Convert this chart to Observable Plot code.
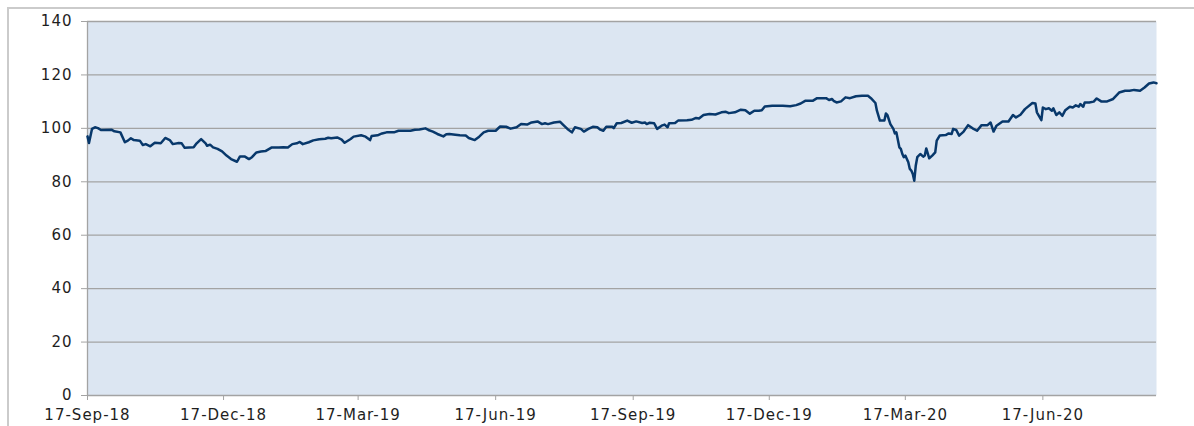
<!DOCTYPE html>
<html>
<head>
<meta charset="utf-8">
<script src="https://cdn.jsdelivr.net/npm/d3@7"></script>
<script src="https://cdn.jsdelivr.net/npm/@observablehq/plot@0.6"></script>
<style>
  html, body { margin: 0; padding: 0; background: #ffffff; }
  #wrap { position: relative; width: 1194px; height: 426px; overflow: hidden; }
  #border { position: absolute; left: 7px; top: 7px; width: 1200px; height: 430px;
            border-top: 2px solid #cbcbcb; border-left: 2px solid #cbcbcb; box-sizing: border-box; }
  #chart { position: absolute; left: 0; top: 0; }
  #chart svg text { letter-spacing: 1px; }
</style>
</head>
<body>
<div id="wrap"><div id="border"></div><div id="chart"></div></div>
<script>
const dates = [
  "2018-09-17","2018-09-18","2018-09-20","2018-09-22","2018-09-24","2018-09-26","2018-10-03","2018-10-05","2018-10-09","2018-10-12",
  "2018-10-14","2018-10-16","2018-10-18","2018-10-22","2018-10-24","2018-10-26","2018-10-29","2018-11-01","2018-11-05","2018-11-08",
  "2018-11-11","2018-11-13","2018-11-17","2018-11-19","2018-11-21","2018-11-27","2018-11-29","2018-12-02","2018-12-05","2018-12-06",
  "2018-12-08","2018-12-10","2018-12-13","2018-12-16","2018-12-19","2018-12-22","2018-12-26","2018-12-28","2018-12-31","2019-01-03",
  "2019-01-05","2019-01-08","2019-01-11","2019-01-14","2019-01-18","2019-01-23","2019-01-26","2019-01-29","2019-02-01","2019-02-04",
  "2019-02-06","2019-02-08","2019-02-12","2019-02-15","2019-02-19","2019-02-23","2019-02-25","2019-02-27","2019-03-03","2019-03-06",
  "2019-03-08","2019-03-12","2019-03-14","2019-03-19","2019-03-22","2019-03-25","2019-03-26","2019-03-30","2019-04-02","2019-04-05",
  "2019-04-10","2019-04-13","2019-04-17","2019-04-21","2019-04-24","2019-04-27","2019-05-01","2019-05-03","2019-05-06","2019-05-09",
  "2019-05-13","2019-05-15","2019-05-17","2019-05-21","2019-05-24","2019-05-28","2019-05-30","2019-06-03","2019-06-06","2019-06-09",
  "2019-06-12","2019-06-17","2019-06-20","2019-06-24","2019-06-27","2019-07-01","2019-07-04","2019-07-08","2019-07-11","2019-07-15",
  "2019-07-18","2019-07-20","2019-07-22","2019-07-26","2019-07-30","2019-08-01","2019-08-04","2019-08-07","2019-08-09","2019-08-13",
  "2019-08-15","2019-08-18","2019-08-21","2019-08-24","2019-08-26","2019-08-28","2019-08-30","2019-09-03","2019-09-04","2019-09-06",
  "2019-09-09","2019-09-13","2019-09-16","2019-09-19","2019-09-23","2019-09-25","2019-09-26","2019-09-28","2019-10-01","2019-10-03",
  "2019-10-06","2019-10-08","2019-10-10","2019-10-11","2019-10-15","2019-10-17","2019-10-23","2019-10-26","2019-10-29","2019-10-31",
  "2019-11-03","2019-11-07","2019-11-11","2019-11-15","2019-11-18","2019-11-20","2019-11-24","2019-11-28","2019-12-01","2019-12-04",
  "2019-12-07","2019-12-10","2019-12-12","2019-12-14","2019-12-19","2019-12-26","2019-12-31","2020-01-04","2020-01-07","2020-01-10",
  "2020-01-15","2020-01-18","2020-01-24","2020-01-26","2020-01-28","2020-01-29","2020-01-31","2020-02-03","2020-02-06","2020-02-09",
  "2020-02-13","2020-02-17","2020-02-21","2020-02-23","2020-02-26","2020-02-27","2020-02-29","2020-03-03","2020-03-04","2020-03-05",
  "2020-03-07","2020-03-09","2020-03-10","2020-03-11","2020-03-13","2020-03-14","2020-03-15","2020-03-16","2020-03-17","2020-03-19",
  "2020-03-20","2020-03-21","2020-03-22","2020-03-23","2020-03-24","2020-03-25","2020-03-27","2020-03-29","2020-03-30","2020-03-31",
  "2020-04-02","2020-04-04","2020-04-06","2020-04-07","2020-04-09","2020-04-13","2020-04-15","2020-04-17","2020-04-18","2020-04-20",
  "2020-04-22","2020-04-25","2020-04-28","2020-05-01","2020-05-04","2020-05-07","2020-05-11","2020-05-13","2020-05-15","2020-05-17",
  "2020-05-21","2020-05-25","2020-05-28","2020-05-30","2020-06-02","2020-06-05","2020-06-10","2020-06-12","2020-06-13","2020-06-16",
  "2020-06-17","2020-06-19","2020-06-21","2020-06-23","2020-06-24","2020-06-26","2020-06-28","2020-06-30","2020-07-02","2020-07-05",
  "2020-07-07","2020-07-09","2020-07-11","2020-07-12","2020-07-14","2020-07-15","2020-07-18","2020-07-21","2020-07-23","2020-07-26",
  "2020-07-30","2020-08-03","2020-08-07","2020-08-11","2020-08-14","2020-08-17","2020-08-21","2020-08-24","2020-08-27","2020-08-30",
  "2020-09-01"
];
const values = [
  97.0, 94.5, 99.8, 100.4, 100.1, 99.4, 99.5, 98.9, 98.5, 94.8,
  95.4, 96.3, 95.6, 95.4, 93.8, 94.1, 93.3, 94.6, 94.4, 96.4,
  95.6, 94.1, 94.5, 94.4, 92.7, 92.9, 94.4, 96.0, 94.4, 93.5,
  93.9, 92.9, 92.3, 91.4, 89.8, 88.5, 87.5, 89.5, 89.5, 88.5,
  89.2, 91.0, 91.3, 91.5, 92.8, 92.8, 92.9, 92.8, 94.1, 94.4,
  94.9, 94.1, 94.8, 95.5, 95.9, 96.1, 96.5, 96.3, 96.6, 95.8,
  94.6, 96.0, 96.9, 97.4, 96.9, 95.6, 97.1, 97.4, 98.1, 98.5,
  98.5, 99.1, 99.1, 99.1, 99.5, 99.6, 100.0, 99.4, 98.8, 97.9,
  97.0, 97.8, 97.9, 97.6, 97.4, 97.3, 96.4, 95.6, 96.9, 98.5,
  99.1, 99.1, 100.7, 100.6, 99.9, 100.4, 101.6, 101.4, 102.2, 102.6,
  101.6, 101.9, 101.6, 102.2, 102.5, 101.4, 99.8, 98.5, 100.4, 99.8,
  98.8, 99.8, 100.6, 100.4, 99.5, 99.1, 100.6, 100.6, 100.1, 101.9,
  102.0, 102.9, 102.1, 102.6, 102.0, 102.2, 101.6, 102.1, 101.9, 99.8,
  101.0, 101.4, 100.4, 101.9, 102.0, 102.9, 103.0, 103.2, 103.9, 103.7,
  105.0, 105.4, 105.2, 106.0, 106.2, 105.7, 106.0, 107.0, 106.8, 105.5,
  106.6, 106.6, 106.8, 108.2, 108.5, 108.5, 108.3, 108.7, 109.3, 110.3,
  110.3, 111.3, 111.3, 110.6, 111.0, 110.3, 109.7, 110.1, 111.6, 111.3,
  112.0, 112.2, 112.2, 111.3, 109.5, 106.6, 102.9, 102.9, 105.6, 105.0,
  101.6, 99.8, 98.1, 98.5, 92.9, 92.3, 90.4, 89.2, 89.8, 87.3,
  84.8, 84.2, 82.9, 80.4, 86.1, 89.2, 90.4, 89.4, 89.8, 92.5,
  88.8, 89.8, 91.0, 95.4, 97.3, 97.5, 98.1, 97.9, 99.8, 99.4,
  97.3, 98.8, 101.2, 100.0, 99.1, 101.2, 101.2, 102.2, 98.8, 101.0,
  102.6, 102.6, 105.0, 104.1, 105.1, 107.2, 109.5, 109.3, 106.0, 103.1,
  107.8, 107.2, 107.5, 106.6, 107.5, 105.0, 106.0, 104.7, 106.8, 108.1,
  107.8, 108.6, 108.1, 109.1, 108.1, 109.7, 109.7, 110.0, 111.2, 110.1,
  110.1, 111.0, 113.4, 114.1, 114.1, 114.4, 114.1, 115.3, 116.8, 117.2,
  116.9
];
const yTicks = [0, 20, 40, 60, 80, 100, 120, 140];
const xTickDates = ["2018-09-17","2018-12-17","2019-03-17","2019-06-17","2019-09-17","2019-12-17","2020-03-17","2020-06-17"];
const xDomain = ["2018-09-17", "2020-09-01"];

const data = dates.map((d, i) => ({date: new Date(d), value: values[i]}));
const fmt = d3.utcFormat("%-d-%b-%y");

const chart = Plot.plot({
  width: 1194,
  height: 426,
  marginLeft: 87,
  marginRight: 38,
  marginTop: 21,
  marginBottom: 31,
  style: {fontFamily: "'DejaVu Sans', sans-serif", fontSize: "15px", color: "#1e1e1e", background: "transparent", overflow: "visible"},
  x: {type: "utc", domain: xDomain.map(d => new Date(d))},
  y: {domain: [0, 140]},
  marks: [
    Plot.frame({fill: "#dce6f2", stroke: null}),
    Plot.ruleY(yTicks, {stroke: "#a3a3a3", strokeWidth: 1.3}),
    Plot.ruleX([new Date(xDomain[0])], {stroke: "#a3a3a3", strokeWidth: 1.3}),
    Plot.axisY({ticks: yTicks, tickSize: 6, tickPadding: 9, stroke: "#a3a3a3", fill: "#1e1e1e", label: null}),
    Plot.axisX({ticks: xTickDates.map(d => new Date(d)), tickFormat: fmt, tickSize: 5, tickPadding: 9, stroke: "#a3a3a3", fill: "#1e1e1e", label: null}),
    Plot.line(data, {x: "date", y: "value", stroke: "#08386b", strokeWidth: 2.5})
  ]
});
document.getElementById("chart").appendChild(chart);
</script>
</body>
</html>
